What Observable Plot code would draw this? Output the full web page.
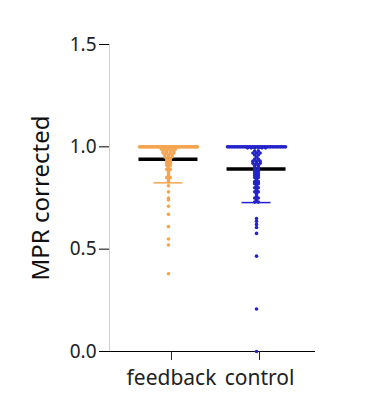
<!DOCTYPE html>
<html>
<head>
<meta charset="utf-8">
<script src="https://cdn.jsdelivr.net/npm/d3@7"></script>
<script src="https://cdn.jsdelivr.net/npm/@observablehq/plot@0.6"></script>
<style>
  html, body { margin: 0; padding: 0; background: #fff; }
  #chart svg { font-family: "Noto Sans", "Open Sans", sans-serif; }
</style>
</head>
<body>
<div id="chart"></div>
<script>
// ---- data ----
const categories = ["feedback", "control"];
const colors = ["#f5a550", "#2323c8"];
const yTicks = [0, 0.5, 1.0, 1.5];

const feedbackValues = [
  ...Array(50).fill(1.0),
  ...Array(5).fill(0.99), ...Array(4).fill(0.98), ...Array(4).fill(0.97),
  ...Array(3).fill(0.96), ...Array(3).fill(0.95), ...Array(2).fill(0.94),
  ...Array(2).fill(0.93), ...Array(2).fill(0.92), ...Array(2).fill(0.91),
  0.90, 0.89, 0.89, 0.88, 0.87, 0.86, 0.85, 0.85, 0.84, 0.83,
  0.81, 0.78, 0.75, 0.74, 0.71, 0.67, 0.61, 0.55, 0.52, 0.38
];
const controlValues = [
  ...Array(36).fill(1.0), ...Array(6).fill(0.995),
  0.98, 0.98, 0.97, 0.97, 0.97, 0.96, 0.96, 0.95, 0.94, 0.94,
  0.93, 0.93, 0.93, 0.92, 0.92, 0.92, 0.91, 0.91, 0.90, 0.90,
  0.89, 0.89, 0.88, 0.88, 0.87, 0.87, 0.86, 0.86, 0.85, 0.85,
  0.84, 0.83, 0.83, 0.82, 0.82, 0.81, 0.80, 0.80, 0.79, 0.78, 0.78,
  0.77, 0.76, 0.75, 0.75, 0.74, 0.73, 0.73,
  0.65, 0.636, 0.621, 0.606, 0.577, 0.466, 0.208, 0.0
];
const seriesValues = [feedbackValues, controlValues];

// ---- layout ----
const W = 386, H = 415;
const mL = 109, mR = 71, mT = 44, mB = 64;
const xDomain = [-0.67, 1.67];
const yDomain = [0, 1.5];
const pxPerX = (W - mL - mR) / (xDomain[1] - xDomain[0]);

// Prism-like column scatter: equal values spread horizontally, clamped to column width
const dotSpacingPx = 3.6, maxRowPx = 58;
const dots = [];
seriesValues.forEach((vals, i) => {
  const groups = d3.groups(vals, v => v);
  for (const [v, arr] of groups) {
    const n = arr.length;
    const sp = n > 1 ? Math.min(dotSpacingPx, maxRowPx / (n - 1)) : 0;
    arr.forEach((_, j) => {
      dots.push({cat: categories[i], i, y: v, x: i + ((j - (n - 1) / 2) * sp) / pxPerX});
    });
  }
});

const stats = seriesValues.map((vals, i) => {
  const m = d3.mean(vals), sd = d3.deviation(vals);
  return {i, cat: categories[i], mean: m, lower: m - sd};
});

const chart = Plot.plot({
  width: W, height: H,
  marginLeft: mL, marginRight: mR, marginTop: mT, marginBottom: mB,
  x: {domain: xDomain},
  y: {domain: yDomain},
  color: {domain: categories, range: colors},
  marks: [
    Plot.ruleX([xDomain[0]], {y1: yDomain[0], y2: yDomain[1], stroke: "#d0d0d0", strokeWidth: 1}),
    Plot.ruleY([yDomain[0]], {stroke: "#000", strokeWidth: 1.2}),
    Plot.axisY({ticks: yTicks, tickFormat: d3.format(".1f"), tickSize: 10, tickPadding: 3,
      fontSize: 19, label: null, stroke: "#000", color: "#222"}),
    Plot.axisY({ticks: [], label: "MPR corrected", labelArrow: false, labelAnchor: "center", labelOffset: 78,
      fontSize: 24, color: "#111", style: {letterSpacing: "0.8px"}}),
    Plot.axisX({ticks: [0, 1], tickFormat: i => categories[i], tickSize: 9, tickPadding: 10,
      fontSize: 21, label: null, color: "#222", dx: 3}),
    Plot.ruleY(stats, {y: "mean", x1: d => d.i - 0.335, x2: d => d.i + 0.335, stroke: "#000", strokeWidth: 3.5}),
    Plot.ruleX(stats, {x: "i", y1: "mean", y2: "lower", stroke: "cat", strokeWidth: 1.3}),
    Plot.ruleY(stats, {y: "lower", x1: d => d.i - 0.165, x2: d => d.i + 0.165, stroke: "cat", strokeWidth: 1.5}),
    Plot.dot(dots, {x: "x", y: "y", fill: "cat", r: 1.8, stroke: null})
  ]
});
document.getElementById("chart").append(chart);
</script>
</body>
</html>
